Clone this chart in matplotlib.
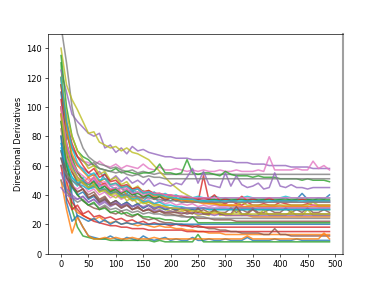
import matplotlib
matplotlib.use("Agg")
import matplotlib.pyplot as plt

steps = list(range(0, 500, 10))

s00 = [120, 70, 40, 25, 18, 12, 11, 10, 10, 12,  10, 9, 11, 10, 9, 12, 10, 9, 10, 11,  9, 10, 9, 9, 11, 9, 9, 10, 9, 9,  10, 9, 9, 9, 11, 9, 9, 9, 9, 10,  9, 9, 9, 10, 9, 9, 9, 9, 9, 9]
s01 = [100, 45, 32, 28, 26, 24, 23, 25, 22, 21,  22, 20, 21, 20, 19, 20, 19, 18, 19, 18,  18, 17, 17, 16, 16, 15, 15, 14, 14, 14,  13, 13, 13, 13, 13, 13, 13, 13, 13, 13,  13, 13, 13, 13, 13, 13, 13, 13, 13, 13]
s02 = [130, 70, 30, 18, 12, 11, 10, 10, 10, 9,  9, 9, 9, 9, 9, 9, 9, 8, 9, 8,  8, 8, 8, 8, 8, 13, 8, 8, 8, 8,  8, 8, 8, 8, 8, 8, 8, 8, 8, 8,  8, 8, 8, 8, 8, 8, 8, 8, 8, 8]
s03 = [95, 50, 35, 30, 26, 24, 22, 21, 20, 19,  19, 18, 18, 17, 17, 17, 16, 16, 16, 16,  16, 16, 16, 15, 15, 15, 15, 15, 15, 15,  15, 15, 15, 15, 15, 15, 15, 15, 15, 15,  15, 15, 15, 15, 15, 15, 15, 15, 15, 15]
s04 = [125, 110, 95, 90, 86, 82, 80, 82, 72, 74,  69, 72, 68, 73, 70, 71, 69, 68, 67, 66,  66, 65, 65, 65, 64, 64, 64, 64, 63, 63,  63, 63, 62, 62, 62, 61, 61, 61, 60, 60,  60, 60, 59, 59, 59, 59, 58, 58, 58, 58]
s05 = [80, 60, 48, 40, 36, 33, 31, 30, 32, 28,  27, 29, 26, 25, 27, 24, 23, 24, 22, 21,  21, 20, 20, 19, 19, 18, 18, 17, 17, 16,  16, 15, 15, 14, 14, 14, 14, 13, 13, 17,  13, 13, 12, 12, 12, 12, 12, 12, 12, 12]
s06 = [110, 85, 72, 66, 63, 62, 60, 63, 60, 59,  61, 58, 60, 59, 58, 61, 58, 57, 59, 57,  57, 58, 57, 56, 57, 56, 57, 56, 56, 57,  56, 56, 57, 56, 56, 56, 57, 56, 66, 57,  57, 57, 57, 58, 57, 57, 63, 58, 60, 57]
s07 = [155, 130, 100, 82, 72, 66, 63, 61, 60, 58,  59, 57, 56, 57, 55, 56, 55, 54, 55, 54,  54, 54, 54, 54, 54, 54, 54, 54, 54, 54,  54, 54, 54, 54, 54, 54, 54, 54, 54, 54,  54, 54, 54, 54, 54, 54, 54, 54, 54, 54]
s08 = [140, 115, 105, 98, 90, 82, 83, 76, 74, 72,  73, 70, 72, 69, 68, 66, 64, 60, 56, 52,  48, 45, 42, 40, 38, 37, 36, 35, 34, 33,  33, 32, 32, 31, 31, 31, 30, 30, 30, 30,  30, 30, 30, 30, 30, 30, 30, 30, 30, 30]
s09 = [70, 55, 50, 46, 52, 44, 45, 48, 42, 40,  43, 38, 39, 42, 37, 36, 39, 38, 35, 37,  36, 38, 35, 36, 37, 35, 36, 35, 37, 35,  35, 36, 35, 35, 36, 35, 35, 35, 35, 36,  35, 35, 35, 35, 35, 36, 35, 35, 35, 35]
s10 = [110, 75, 60, 52, 48, 45, 50, 44, 46, 42,  44, 40, 41, 43, 38, 38, 40, 37, 39, 37,  38, 36, 38, 36, 37, 38, 36, 37, 37, 36,  38, 36, 37, 37, 36, 38, 36, 37, 37, 36,  37, 38, 36, 37, 41, 37, 36, 38, 37, 40]
s11 = [90, 65, 55, 50, 48, 52, 47, 50, 46, 44,  42, 45, 40, 38, 39, 36, 35, 34, 33, 32,  31, 30, 30, 29, 28, 28, 28, 27, 27, 27,  26, 26, 26, 26, 26, 25, 25, 25, 25, 25,  25, 25, 25, 25, 25, 25, 25, 25, 25, 25]
s12 = [135, 100, 80, 70, 66, 64, 60, 58, 57, 56,  58, 55, 56, 55, 54, 55, 55, 56, 61, 55,  55, 54, 55, 64, 55, 54, 55, 55, 54, 53,  56, 54, 53, 53, 53, 52, 53, 52, 52, 52,  51, 51, 51, 51, 50, 51, 50, 50, 50, 49]
s13 = [105, 75, 62, 55, 50, 48, 52, 46, 48, 43,  45, 41, 44, 40, 42, 38, 41, 37, 39, 36,  38, 36, 37, 35, 36, 35, 53, 36, 35, 35,  34, 36, 34, 33, 35, 33, 33, 34, 33, 33,  35, 34, 33, 33, 33, 34, 33, 33, 33, 33]
s14 = [90, 72, 66, 60, 58, 55, 53, 56, 51, 50,  53, 49, 52, 48, 50, 47, 51, 46, 48, 47,  46, 48, 47, 52, 58, 48, 56, 47, 46, 45,  55, 46, 53, 47, 45, 46, 48, 44, 45, 55,  46, 45, 47, 45, 45, 44, 45, 45, 45, 45]
s15 = [70, 55, 46, 42, 44, 38, 40, 36, 38, 34,  36, 33, 35, 32, 34, 31, 33, 30, 32, 30,  31, 29, 31, 29, 30, 28, 30, 28, 29, 28,  28, 31, 28, 30, 28, 31, 28, 28, 30, 28,  28, 31, 28, 30, 28, 31, 28, 28, 30, 28]
s16 = [60, 50, 46, 44, 47, 42, 44, 40, 42, 38,  40, 37, 39, 36, 38, 35, 37, 34, 36, 34,  35, 33, 34, 33, 34, 32, 33, 32, 33, 32,  32, 33, 32, 32, 32, 33, 32, 32, 32, 32,  33, 32, 32, 32, 32, 32, 33, 32, 32, 32]
s17 = [95, 80, 72, 66, 63, 60, 62, 58, 57, 56,  55, 56, 54, 53, 54, 52, 53, 52, 52, 51,  51, 51, 51, 51, 51, 51, 51, 51, 51, 51,  51, 51, 51, 51, 51, 51, 51, 51, 51, 51,  51, 51, 51, 51, 51, 51, 51, 51, 51, 51]
s18 = [85, 65, 56, 50, 48, 45, 47, 42, 44, 40,  38, 41, 36, 38, 34, 35, 33, 32, 31, 30,  29, 28, 29, 27, 28, 26, 27, 26, 30, 26,  27, 26, 30, 26, 27, 26, 26, 30, 26, 26,  26, 26, 29, 26, 26, 30, 26, 26, 26, 26]
s19 = [75, 62, 52, 48, 46, 44, 46, 48, 55, 46,  44, 45, 42, 44, 41, 43, 40, 42, 39, 41,  39, 40, 38, 39, 38, 39, 38, 38, 39, 38,  38, 38, 38, 38, 39, 38, 38, 38, 38, 38,  38, 39, 38, 38, 38, 38, 38, 38, 38, 38]
s20 = [65, 52, 45, 40, 42, 37, 39, 35, 37, 34,  36, 33, 35, 32, 34, 31, 33, 31, 32, 30,  31, 30, 31, 30, 30, 30, 31, 30, 30, 30,  30, 30, 30, 30, 30, 30, 30, 30, 30, 30,  30, 30, 30, 30, 30, 30, 30, 30, 30, 30]
s21 = [50, 30, 14, 25, 18, 12, 10, 10, 11, 10,  11, 10, 10, 11, 10, 10, 10, 11, 10, 10,  10, 10, 10, 10, 10, 10, 10, 10, 10, 10,  10, 10, 10, 10, 12, 10, 10, 10, 10, 10,  10, 10, 10, 10, 10, 10, 10, 10, 14, 10]
s22 = [115, 85, 65, 56, 50, 47, 49, 44, 46, 42,  44, 41, 43, 40, 41, 39, 40, 38, 39, 38,  38, 37, 38, 37, 37, 37, 37, 37, 37, 37,  37, 37, 37, 37, 37, 37, 37, 37, 37, 37,  37, 37, 37, 37, 37, 37, 37, 37, 37, 37]
s23 = [60, 38, 30, 33, 27, 29, 25, 26, 24, 25,  23, 24, 22, 23, 21, 22, 20, 21, 20, 20,  19, 20, 19, 19, 18, 19, 18, 18, 18, 18,  18, 18, 18, 18, 18, 18, 18, 18, 18, 18,  18, 18, 18, 18, 18, 18, 18, 18, 18, 18]
s24 = [55, 44, 40, 37, 39, 35, 37, 33, 35, 32,  34, 31, 33, 30, 32, 29, 31, 29, 30, 28,  29, 28, 28, 27, 28, 27, 27, 27, 26, 27,  26, 26, 26, 26, 26, 26, 26, 26, 26, 26,  26, 26, 26, 26, 26, 26, 26, 26, 26, 26]
s25 = [100, 70, 56, 48, 44, 40, 42, 37, 39, 34,  36, 32, 34, 30, 32, 29, 30, 28, 29, 27,  27, 26, 26, 25, 25, 24, 24, 24, 23, 23,  23, 23, 22, 22, 22, 22, 22, 22, 22, 22,  22, 22, 22, 22, 22, 22, 22, 22, 22, 22]
s26 = [85, 65, 57, 52, 50, 48, 51, 46, 47, 44,  45, 42, 44, 41, 42, 40, 41, 39, 40, 38,  39, 37, 38, 37, 37, 36, 37, 36, 36, 35,  36, 35, 35, 35, 35, 35, 35, 35, 35, 35,  35, 35, 35, 35, 35, 35, 35, 35, 35, 35]
s27 = [50, 42, 38, 35, 37, 33, 34, 31, 33, 30,  31, 29, 30, 28, 29, 27, 28, 27, 27, 26,  26, 26, 25, 25, 25, 25, 25, 24, 24, 24,  24, 24, 24, 24, 24, 24, 24, 24, 24, 24,  24, 24, 24, 24, 24, 24, 24, 24, 24, 24]
s28 = [120, 95, 80, 70, 64, 58, 60, 54, 56, 50,  52, 47, 49, 44, 46, 42, 43, 40, 41, 38,  39, 37, 37, 36, 36, 35, 35, 34, 34, 34,  33, 33, 33, 35, 33, 33, 33, 33, 33, 33,  33, 33, 33, 33, 33, 33, 35, 33, 33, 33]
s29 = [72, 60, 52, 48, 50, 45, 47, 43, 44, 41,  42, 39, 40, 37, 38, 35, 36, 34, 35, 33,  33, 32, 32, 31, 31, 31, 31, 30, 30, 30,  30, 30, 30, 30, 30, 30, 30, 30, 30, 30,  30, 30, 30, 30, 30, 30, 30, 30, 30, 30]
s30 = [80, 35, 22, 26, 24, 22, 24, 21, 23, 20,  22, 20, 21, 20, 21, 20, 20, 20, 20, 20,  20, 20, 20, 20, 20, 20, 20, 20, 20, 20,  20, 20, 20, 20, 20, 20, 20, 20, 20, 20,  20, 20, 20, 20, 20, 20, 20, 20, 20, 20]
s31 = [120, 85, 68, 60, 56, 52, 54, 49, 51, 47,  48, 45, 46, 43, 44, 41, 42, 39, 40, 38,  38, 37, 36, 36, 35, 35, 34, 34, 34, 33,  33, 33, 33, 32, 32, 32, 32, 32, 32, 32,  32, 32, 32, 32, 32, 32, 32, 32, 32, 32]
s32 = [90, 60, 46, 40, 36, 33, 35, 30, 31, 28,  29, 27, 28, 26, 27, 25, 25, 24, 24, 23,  23, 22, 22, 22, 25, 21, 21, 21, 21, 21,  21, 21, 21, 21, 21, 21, 21, 21, 21, 21,  21, 21, 21, 21, 21, 21, 21, 21, 21, 21]
s33 = [115, 90, 75, 66, 60, 55, 58, 52, 54, 49,  50, 46, 47, 44, 45, 42, 43, 41, 41, 40,  40, 39, 39, 38, 38, 37, 38, 37, 40, 36,  37, 36, 36, 39, 36, 37, 36, 36, 38, 36,  36, 36, 36, 36, 37, 36, 36, 36, 36, 36]
s34 = [45, 40, 38, 37, 39, 35, 37, 34, 36, 33,  35, 33, 34, 32, 33, 32, 33, 31, 32, 31,  31, 31, 31, 31, 31, 31, 31, 31, 31, 31,  31, 31, 31, 31, 31, 31, 31, 31, 31, 31,  31, 31, 31, 31, 31, 31, 31, 31, 31, 31]
s35 = [65, 52, 46, 42, 44, 38, 40, 35, 37, 33,  34, 31, 33, 30, 31, 29, 30, 28, 29, 28,  28, 28, 27, 28, 27, 31, 27, 27, 30, 27,  27, 27, 32, 27, 27, 30, 27, 27, 27, 27,  27, 27, 27, 27, 27, 27, 27, 27, 27, 27]
s36 = [100, 75, 62, 56, 53, 50, 52, 48, 49, 46,  47, 44, 45, 43, 44, 42, 42, 41, 41, 40,  40, 39, 39, 39, 38, 38, 38, 38, 38, 38,  38, 38, 38, 38, 38, 38, 38, 38, 38, 38,  38, 38, 38, 38, 38, 38, 38, 38, 38, 38]
s37 = [60, 54, 50, 47, 49, 45, 46, 43, 44, 41,  42, 40, 40, 39, 39, 38, 38, 37, 37, 36,  36, 36, 35, 35, 35, 35, 35, 35, 35, 35,  35, 35, 35, 35, 35, 35, 35, 35, 35, 35,  35, 35, 35, 35, 35, 35, 35, 35, 35, 35]
s38 = [95, 70, 58, 52, 48, 45, 47, 42, 43, 40,  41, 38, 39, 36, 37, 34, 35, 33, 33, 32,  31, 31, 30, 30, 29, 29, 28, 28, 28, 28,  27, 27, 27, 27, 27, 27, 27, 27, 27, 27,  27, 27, 27, 27, 27, 27, 27, 27, 27, 27]
s39 = [120, 90, 72, 62, 57, 53, 55, 50, 51, 47,  48, 45, 46, 43, 44, 41, 42, 40, 40, 39,  38, 38, 37, 37, 37, 36, 36, 36, 36, 36,  36, 36, 36, 36, 36, 36, 36, 36, 36, 36,  36, 36, 36, 36, 36, 36, 36, 36, 36, 36]

series = [s00, s01, s02, s03, s04, s05, s06, s07, s08, s09,
          s10, s11, s12, s13, s14, s15, s16, s17, s18, s19,
          s20, s21, s22, s23, s24, s25, s26, s27, s28, s29,
          s30, s31, s32, s33, s34, s35, s36, s37, s38, s39]

dpi = 381 / 6.4
fig = plt.figure(figsize=(6.4, 4.8), dpi=dpi)
ax = fig.add_subplot(111)
for s in series:
    ax.plot(steps[:len(s)], s, alpha=0.8, linewidth=1.9)
ax.set_ylim(0, 150)
ax.set_xticks([0, 50, 100, 150, 200, 250, 300, 350, 400, 450, 500])
ax.set_ylabel("Directional Derivatives")
ax.spines['right'].set_color('#a0a0a0')
ax.spines['right'].set_linewidth(2.5)
fig.savefig("out.png", dpi=dpi)
